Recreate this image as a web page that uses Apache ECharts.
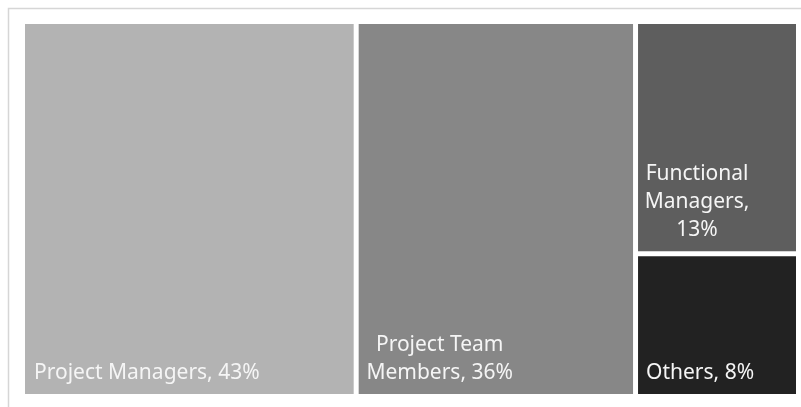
<!DOCTYPE html>
<html>
<head>
<meta charset="utf-8">
<script src="https://cdn.jsdelivr.net/npm/echarts@6/dist/echarts.min.js"></script>
<style>
  html, body { margin: 0; padding: 0; background: #ffffff; }
  #chart { width: 801px; height: 407px; }
</style>
</head>
<body>
<div id="chart"></div>
<script>
// Share of respondents by role (percent)
const categories = ['Project Managers', 'Project Team Members', 'Functional Managers', 'Others'];
const shares = [43, 36, 13, 8];
const fills = ['#b3b3b3', '#878787', '#5e5e5e', '#222222'];
// longest caption line (in characters) before wrapping to a new line
const wrapChars = [40, 13, 10, 40];
const captionAlign = ['left', 'center', 'center', 'left'];
const captionShiftX = [4, 81, 59, 3];

function wrapWords(text, maxChars) {
  const words = text.split(' ');
  const lines = [];
  let cur = '';
  words.forEach(function (w) {
    const next = cur ? cur + ' ' + w : w;
    if (next.length > maxChars && cur) {
      lines.push(cur);
      cur = w;
    } else {
      cur = next;
    }
  });
  if (cur) lines.push(cur);
  return lines.join('\n');
}

const data = categories.map(function (name, i) {
  return {
    name: name,
    value: shares[i],
    itemStyle: { color: fills[i], borderWidth: 0 },
    label: {
      position: 'insideBottomLeft',
      distance: 0,
      offset: [captionShiftX[i], -2],
      align: captionAlign[i],
      verticalAlign: 'bottom',
      formatter: function (p) {
        return wrapWords(p.name + ', ' + p.value + '%', wrapChars[i]);
      }
    }
  };
});

const chart = echarts.init(document.getElementById('chart'), null, { renderer: 'canvas' });
chart.setOption({
  animation: false,
  graphic: [{
    type: 'rect',
    silent: true,
    shape: { x: 8.5, y: 8.5, width: 900, height: 500 },
    style: { fill: 'none', stroke: '#d6d6d6', lineWidth: 1.5 }
  }],
  series: [{
    type: 'treemap',
    left: 25,
    top: 24,
    width: 771,
    height: 370,
    roam: false,
    nodeClick: false,
    breadcrumb: { show: false },
    sort: 'desc',
    itemStyle: { borderWidth: 0, gapWidth: 5 },
    levels: [
      { itemStyle: { borderWidth: 0, gapWidth: 5 } },
      { itemStyle: { borderWidth: 0, gapWidth: 0 } }
    ],
    label: {
      show: true,
      color: '#f5f5f5',
      fontFamily: 'Noto Sans',
      fontSize: 21,
      lineHeight: 28
    },
    emphasis: { disabled: true },
    data: data
  }]
});
</script>
</body>
</html>
